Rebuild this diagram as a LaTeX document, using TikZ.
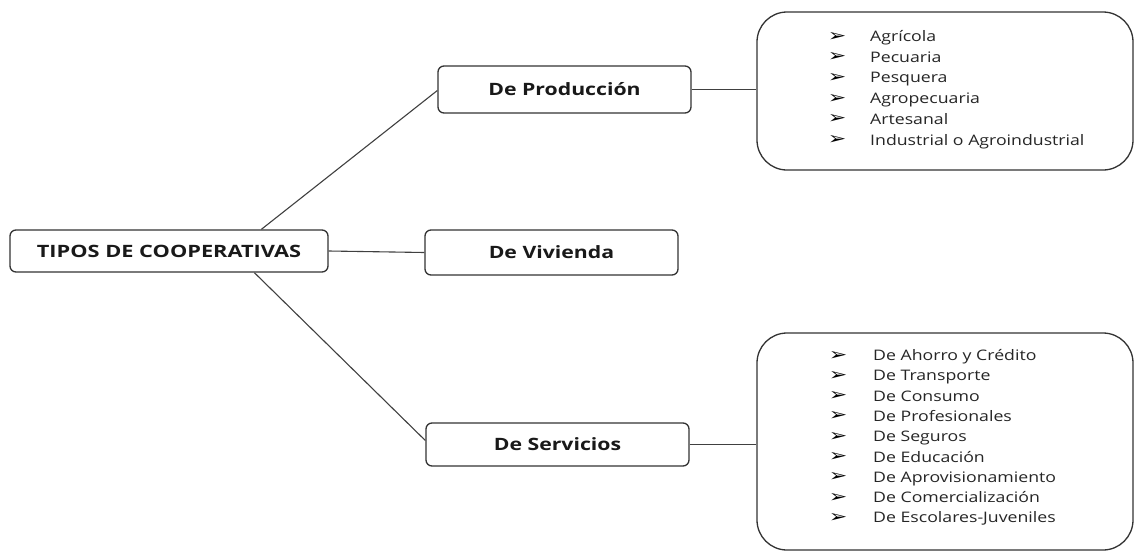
\documentclass[tikz,border=0pt]{standalone}
\usepackage{fontspec}
\setmainfont{Open Sans}
\newfontfamily\dejavu{DejaVu Sans}
\usetikzlibrary{calc}
\newcommand{\widetext}[2]{\scalebox{#1}[1]{#2}}
\begin{document}
\begin{tikzpicture}[x=1pt,y=-1pt,
  box/.style={draw=black!80, line width=1.3pt, rounded corners=6pt, inner sep=0pt, font=\fontsize{17}{20}\selectfont\bfseries, text=black!90},
  bigbox/.style={draw=black!80, line width=1.3pt, rounded corners=30pt, inner sep=0pt},
  conn/.style={draw=black!75, line width=1.1pt},
  item/.style={anchor=base west, inner sep=0pt, font=\fontsize{14.5}{17}\selectfont, text=black!85},
  bul/.style={anchor=base, inner sep=0pt, font=\dejavu\bfseries\fontsize{17}{18}\selectfont, text=black}]
\useasboundingbox (0,0) rectangle (1138,552);
\fill[white] (0,0) rectangle (1138,552);
\node[box, minimum width=318pt, minimum height=42pt] (tipos) at (169,251) {\widetext{1.28}{TIPOS DE COOPERATIVAS}};
\node[box, minimum width=253pt, minimum height=47pt] (prod) at (564.5,89.5) {\widetext{1.25}{De Producción}};
\node[box, minimum width=253pt, minimum height=45pt] (viv) at (551.5,252.5) {\widetext{1.25}{De Vivienda}};
\node[box, minimum width=263pt, minimum height=43pt] (serv) at (557.5,444.5) {\widetext{1.25}{De Servicios}};
\node[bigbox, minimum width=376pt, minimum height=158pt] (b1) at (945,91) {};
\node[bigbox, minimum width=376pt, minimum height=217pt] (b2) at (945,441.5) {};
\coordinate (t1) at ($(tipos.north west)+(252,0)$);
\coordinate (t3) at ($(tipos.south west)+(245,0)$);
\coordinate (p1) at ($(prod.west)+(0,1)$);
\coordinate (s1) at ($(serv.west)+(0,-4)$);
\draw[conn] (t1) -- (p1);
\draw[conn] (tipos.east) -- (viv.west);
\draw[conn] (t3) -- (s1);
\draw[conn] (prod.east) -- (prod.east -| b1.west);
\draw[conn] (serv.east) -- (serv.east -| b2.west);
\foreach \t [count=\i] in {Agrícola,Pecuaria,Pesquera,Agropecuaria,Artesanal,Industrial o Agroindustrial}{
  \node[bul] (ba\i) at (837,{41+20.7*(\i-1)}) {\widetext{1.3}{➢}};
  \node[item] (ta\i) at (870,{41.5+20.7*(\i-1)}) {\widetext{1.22}{\t}};
}
\foreach \t [count=\i] in {De Ahorro y Crédito,De Transporte,De Consumo,De Profesionales,De Seguros,De Educación,De Aprovisionamiento,De Comercialización,De Escolares-Juveniles}{
  \node[bul] (bb\i) at (838,{360+20.3*(\i-1)}) {\widetext{1.3}{➢}};
  \node[item] (tb\i) at (873,{360.5+20.3*(\i-1)}) {\widetext{1.22}{\t}};
}
\end{tikzpicture}
\end{document}
